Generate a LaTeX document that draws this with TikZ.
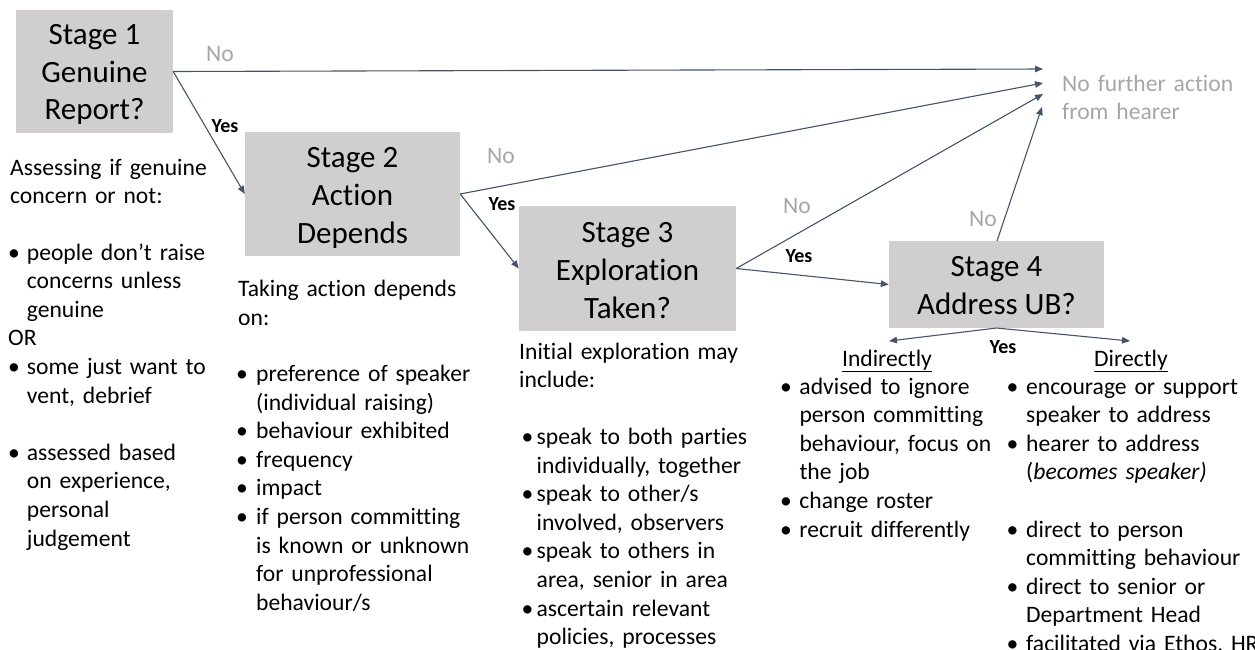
\documentclass[tikz,border=0pt]{standalone}
\usepackage{fontspec}
\setmainfont{Carlito}[Ligatures=NoCommon]
\usetikzlibrary{arrows.meta}
\definecolor{boxgray}{HTML}{D0CECE}
\definecolor{arrowc}{HTML}{44546A}
\definecolor{notext}{HTML}{A6A6A6}
\newlength{\bind}
\newcommand{\bl}[1]{\makebox[\bind][l]{•}#1}
\newcommand{\cl}[1]{\hspace*{\bind}#1}
\tikzset{
  stagebox/.style={fill=boxgray, draw=none, inner sep=0pt},
  stagetext/.style={inner sep=0pt, align=center,
    font=\fontsize{31}{37.8}\selectfont},
  conn/.style={draw=arrowc, line width=1.1pt, -{Triangle[length=8pt,width=6.5pt]}},
  nolab/.style={text=notext, font=\fontsize{23.6}{28.5}\selectfont, inner sep=0pt},
  yeslab/.style={font=\fontsize{20}{24}\selectfont\bfseries, inner sep=0pt},
  body/.style={anchor=base west, inner sep=0pt, text width=300pt, align=left,
    font=\fontsize{23.6}{28.5}\selectfont},
  blist/.style={anchor=base west, inner sep=0pt, text width=300pt, align=left,
    font=\fontsize{23.6}{28.6}\selectfont\setlength{\bind}{#1}},
  colhead/.style={anchor=base, inner sep=0pt, font=\fontsize{23.6}{28.5}\selectfont},
}
\begin{document}
\begin{tikzpicture}[x=1pt,y=-1pt]
\useasboundingbox (0,0) rectangle (1255,649);
\clip (0,0) rectangle (1255,649);

% stage boxes
\node[stagebox, minimum width=157pt, minimum height=123pt] (s1) at (94.5,71.5) {};
\node[stagebox, minimum width=215pt, minimum height=124pt] (s2) at (352.5,194) {};
\node[stagebox, minimum width=217pt, minimum height=125pt] (s3) at (627.5,268.5) {};
\node[stagebox, minimum width=215pt, minimum height=87pt] (s4) at (996.5,284.5) {};
\node[stagetext] (s1t) at (94.5,74.5) {Stage 1\\Genuine\\Report?};
\node[stagetext] (s2t) at (352.5,198) {Stage 2\\Action\\Depends};
\node[stagetext] (s3t) at (627.5,270.5) {Stage 3\\Exploration\\Taken?};
\node[stagetext] (s4t) at (996.5,285.5) {Stage 4\\Address UB?};

% end text
\node[body, text=notext] (nfa) at (1062,91) {No further action\\from hearer};

% arrow targets
\coordinate (t1) at (1043,69);
\coordinate (t2) at (1043,83);
\coordinate (t3) at (1043,94);
\coordinate (t4) at (1042,107);
\coordinate (s4top) at (997,241);
\coordinate (s4bot) at (996.5,328);
\coordinate (ind) at (889,341);
\coordinate (dir) at (1130,341);

% connectors
\draw[conn] (s1.east) -- (t1);
\draw[conn] (s1.east) -- (s2.west);
\draw[conn] (s2.east) -- (t2);
\draw[conn] (s2.east) -- (s3.west);
\draw[conn] (s3.east) -- (t3);
\draw[conn] (s3.east) -- (s4.west);
\draw[conn] (s4top) -- (t4);
\draw[conn] (s4bot) -- (ind);
\draw[conn] (s4bot) -- (dir);

% labels
\node[nolab] (no1) at (220,54) {No};
\node[nolab] (no2) at (501,156) {No};
\node[nolab] (no3) at (797,206) {No};
\node[nolab] (no4) at (983,219) {No};
\node[yeslab] (y1) at (225,126) {Yes};
\node[yeslab] (y2) at (502,204) {Yes};
\node[yeslab] (y3) at (799,256) {Yes};
\node[yeslab] (y4) at (1003,347) {Yes};

% column 1
\node[body] (c1h) at (10,175) {Assessing if genuine\\concern or not:};
\node[blist=18.7pt] (c1l) at (8,260) {\bl{people don’t raise}\\
\cl{concerns unless}\\
\cl{genuine}\\
OR\\
\bl{some just want to}\\
\cl{vent, debrief}\\
\mbox{}\\
\bl{assessed based}\\
\cl{on experience,}\\
\cl{personal}\\
\cl{judgement}};

% column 2
\node[body] (c2h) at (238,296.5) {Taking action depends\\on:};
\node[blist=20pt] (c2l) at (236,381.5) {\bl{preference of speaker}\\
\cl{(individual raising)}\\
\bl{behaviour exhibited}\\
\bl{frequency}\\
\bl{impact}\\
\bl{if person committing}\\
\cl{is known or unknown}\\
\cl{for unprofessional}\\
\cl{behaviour/s}};

% column 3
\node[body] (c3h) at (519,359) {Initial exploration may\\include:};
\node[blist=15pt] (c3l) at (521.5,444.5) {\bl{speak to both parties}\\
\cl{individually, together}\\
\bl{speak to other/s}\\
\cl{involved, observers}\\
\bl{speak to others in}\\
\cl{area, senior in area}\\
\bl{ascertain relevant}\\
\cl{policies, processes}};

% column 4
\node[colhead] (c4h) at (887,366) {\underline{Indirectly}};
\node[blist=19.3pt] (c4l) at (780,394) {\bl{advised to ignore}\\
\cl{person committing}\\
\cl{behaviour, focus on}\\
\cl{the job}\\
\bl{change roster}\\
\bl{recruit differently}};

% column 5
\node[colhead] (c5h) at (1131,366) {\underline{Directly}};
\node[blist=19.5pt] (c5l) at (1006.5,394) {\bl{encourage or support}\\
\cl{speaker to address}\\
\bl{hearer to address}\\
\cl{(\textit{becomes speaker)}}\\
\mbox{}\\
\bl{direct to person}\\
\cl{committing behaviour}\\
\bl{direct to senior or}\\
\cl{Department Head}\\
\bl{facilitated via Ethos, HR}};
\end{tikzpicture}
\end{document}
